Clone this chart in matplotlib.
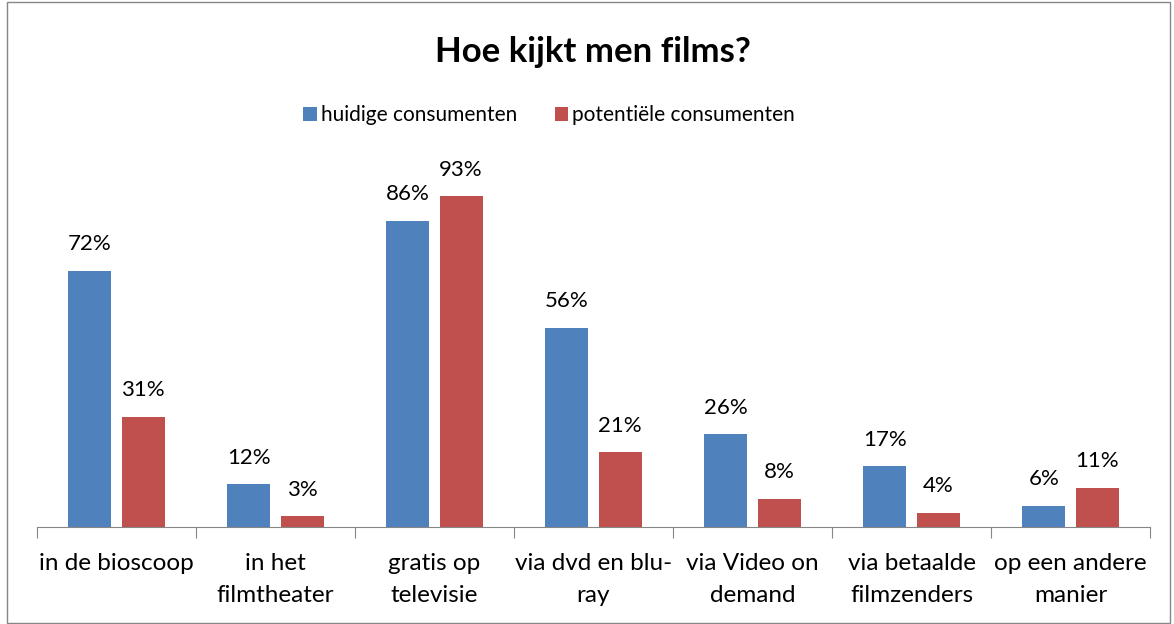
import matplotlib.pyplot as plt
import numpy as np
from matplotlib.patches import Rectangle

categories = ["in de bioscoop", "in het\nfilmtheater", "gratis op\ntelevisie",
              "via dvd en blu-\nray", "via Video on\ndemand", "via betaalde\nfilmzenders",
              "op een andere\nmanier"]
huidige = [72, 12, 86, 56, 26, 17, 6]
potentieel = [31, 3, 93, 21, 8, 4, 11]
series_names = ["huidige consumenten", "potentiële consumenten"]

blue = "#4F81BD"
red = "#C0504D"
font = "Lato"

W, H = 1174, 624
fig = plt.figure(figsize=(W / 100, H / 100), dpi=100)
# axes in pixel units: x 37..1150, baseline at 527, 100% at 171
ax = fig.add_axes([37 / W, (H - 527) / H, (1150 - 37) / W, (527 - 171) / H])

x = np.arange(len(categories))
width = 0.27
b1 = ax.bar(x - 0.167, huidige, width, color=blue, label=series_names[0])
b2 = ax.bar(x + 0.167, potentieel, width, color=red, label=series_names[1])

for bars, vals in ((b1, huidige), (b2, potentieel)):
    for rect, v in zip(bars, vals):
        ax.annotate(f"{v}%", (rect.get_x() + rect.get_width() / 2, v),
                    xytext=(0, 19), textcoords="offset points",
                    ha="center", va="center", fontsize=16, family=font)

ax.set_xlim(-0.5, len(categories) - 0.5)
ax.set_ylim(0, 100)
for s in ("top", "right", "left"):
    ax.spines[s].set_visible(False)
ax.spines["bottom"].set_color("#868686")
ax.set_yticks([])

ax.set_xticks(np.arange(-0.5, len(categories), 1.0))
ax.set_xticklabels([])
ax.set_xticks(x, minor=True)
ax.set_xticklabels(categories, minor=True, fontsize=17.5, family=font, linespacing=1.65)
ax.tick_params(axis="x", which="major", length=8, color="#868686", direction="out")
ax.tick_params(axis="x", which="minor", length=0, pad=19)
for lbl in ax.get_xticklabels(minor=True):
    lbl.set_verticalalignment("top")

fig.text(593 / W, 1 - 52 / H, "Hoe kijkt men films?", ha="center", va="center",
         fontsize=25, fontweight="bold", family=font)

leg = fig.legend(handles=[b1, b2], loc="center", bbox_to_anchor=(549 / W, 1 - 115 / H),
                 ncol=2, frameon=False, prop={"family": font, "size": 15},
                 handlelength=0.65, handleheight=0.65, handletextpad=0.2, columnspacing=1.8)

fig.patches.append(Rectangle((7 / W, 1 / H), (1170 - 7) / W, (622 - 1) / H,
                             transform=fig.transFigure, fill=False,
                             edgecolor="#868686", linewidth=1))

fig.savefig("out.png", dpi=100)
